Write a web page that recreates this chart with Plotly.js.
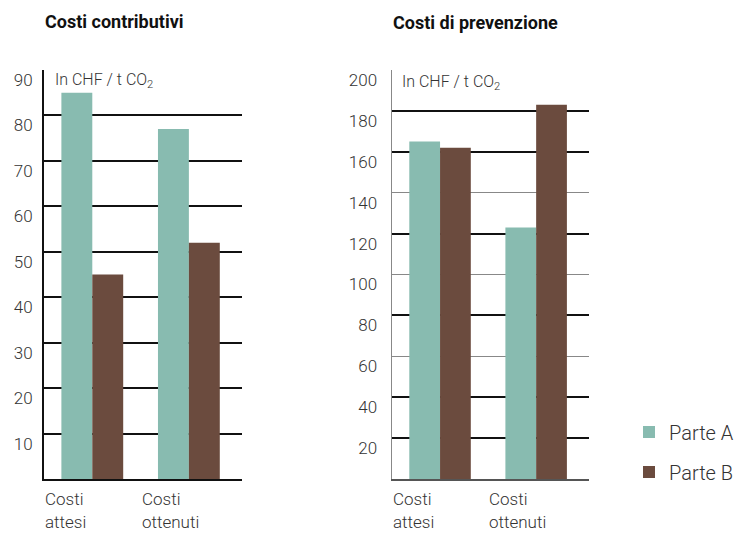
<!DOCTYPE html>
<html>
<head>
<meta charset="utf-8">
<script src="https://cdn.plot.ly/plotly-3.0.1.min.js"></script>
<style>
html,body{margin:0;padding:0;background:#fff;}
#chart{width:740px;height:533px;}
</style>
</head>
<body>
<div id="chart"></div>
<script>
// ---- data ----
const categories = ["Costi attesi", "Costi ottenuti"];
const seriesNames = ["Parte A", "Parte B"];
const contributiviA = [85, 77];
const contributiviB = [45, 52];
const prevenzioneA = [165, 123];
const prevenzioneB = [162, 183];
const titles = ["Costi contributivi", "Costi di prevenzione"];
const unitLabel = "In CHF / t CO<sub>2</sub>";
const leftTicks = [10, 20, 30, 40, 50, 60, 70, 80, 90];
const rightTicks = [20, 40, 60, 80, 100, 120, 140, 160, 180, 200];
const leftGrid = [10, 20, 30, 40, 50, 60, 70, 80];
const rightGridDark = [20, 40, 80, 120, 160, 180];
const rightGridLight = [60, 100, 140];

const teal = "#88bbb0";
const brown = "#6b4b3e";
const FONT = "Roboto, 'DejaVu Sans', sans-serif";

const traces = [
  {type: "bar", x: categories, y: contributiviA, name: seriesNames[0], marker: {color: teal},
   xaxis: "x", yaxis: "y", legendgroup: "a", showlegend: true, hoverinfo: "skip"},
  {type: "bar", x: categories, y: contributiviB, name: seriesNames[1], marker: {color: brown},
   xaxis: "x", yaxis: "y", legendgroup: "b", showlegend: true, hoverinfo: "skip"},
  {type: "bar", x: categories, y: prevenzioneA, name: seriesNames[0], marker: {color: teal},
   xaxis: "x2", yaxis: "y2", legendgroup: "a", showlegend: false, hoverinfo: "skip"},
  {type: "bar", x: categories, y: prevenzioneB, name: seriesNames[1], marker: {color: brown},
   xaxis: "x2", yaxis: "y2", legendgroup: "b", showlegend: false, hoverinfo: "skip"},
  // empty helper traces so the gridline-only overlay axes get drawn
  {type: "scatter", mode: "markers", x: [], y: [], xaxis: "x", yaxis: "y3", showlegend: false, hoverinfo: "skip"},
  {type: "scatter", mode: "markers", x: [], y: [], xaxis: "x2", yaxis: "y4", showlegend: false, hoverinfo: "skip"},
  {type: "scatter", mode: "markers", x: [], y: [], xaxis: "x2", yaxis: "y5", showlegend: false, hoverinfo: "skip"}
];

const W = 740, H = 533;
const yDom = [(H - 479) / H, (H - 70) / H];
const xDom1 = [44 / W, 242 / W];
const xDom2 = [392 / W, 589 / W];

const tickFont = {family: FONT, size: 17, color: "#333", weight: 300};

function catAnns(xref, i, txt) {
  const words = txt.split(" ");
  return words.map((w, k) => ({xref: xref, yref: "paper", x: i - 0.5, y: (H - (499 + 23 * k)) / H,
    xanchor: "left", yanchor: "middle", text: w, showarrow: false, align: "left", borderpad: 0,
    font: {family: FONT, size: 17, color: "#333", weight: 300}}));
}

let annotations = [
  {xref: "paper", yref: "paper", x: 43 / W, y: (H - 21) / H, xanchor: "left", yanchor: "middle",
   text: "<b>" + titles[0] + "</b>", showarrow: false, font: {family: FONT, size: 18, color: "#111"}},
  {xref: "paper", yref: "paper", x: 391 / W, y: (H - 22) / H, xanchor: "left", yanchor: "middle",
   text: "<b>" + titles[1] + "</b>", showarrow: false, font: {family: FONT, size: 18, color: "#111"}},
  {xref: "paper", yref: "paper", x: 53 / W, y: (H - 81) / H, xanchor: "left", yanchor: "middle",
   text: unitLabel, showarrow: false, font: {family: FONT, size: 16, color: "#333", weight: 300}},
  {xref: "paper", yref: "paper", x: 400 / W, y: (H - 82) / H, xanchor: "left", yanchor: "middle",
   text: unitLabel, showarrow: false, font: {family: FONT, size: 16, color: "#333", weight: 300}}
];
categories.forEach((c, i) => {
  annotations = annotations.concat(catAnns("x", i, c), catAnns("x2", i, c));
});

const layout = {
  width: W, height: H,
  margin: {l: 0, r: 0, t: 0, b: 0},
  paper_bgcolor: "#fff", plot_bgcolor: "rgba(0,0,0,0)",
  barmode: "group", bargap: 0.36, bargroupgap: 0,
  showlegend: true,
  legend: {x: 629 / W, y: (H - 452) / H, xanchor: "left", yanchor: "middle",
    font: {family: FONT, size: 20, color: "#333", weight: 300}, tracegroupgap: 11,
    bgcolor: "rgba(0,0,0,0)"},
  annotations: annotations,
  xaxis: {domain: xDom1, anchor: "y", type: "category", range: [-0.5, 1.55],
    showticklabels: false, ticks: "", showgrid: false, zeroline: false,
    showline: true, linecolor: "#111", linewidth: 2},
  yaxis: {domain: yDom, anchor: "x", range: [0, 90], tickvals: leftTicks,
    showgrid: false, zeroline: false, showline: true, linecolor: "#111", linewidth: 2,
    ticks: "", tickfont: tickFont, ticklabelshift: 10, ticklabelstandoff: 6},
  yaxis3: {domain: yDom, overlaying: "y", anchor: "x", range: [0, 90], tickvals: leftGrid,
    showgrid: true, gridcolor: "#111", gridwidth: 2, showticklabels: false,
    zeroline: false, showline: false, ticks: ""},
  xaxis2: {domain: xDom2, anchor: "y2", type: "category", range: [-0.5, 1.55],
    showticklabels: false, ticks: "", showgrid: false, zeroline: false,
    showline: true, linecolor: "#555", linewidth: 2},
  yaxis2: {domain: yDom, anchor: "x2", range: [0, 200], tickvals: rightTicks,
    showgrid: false, zeroline: false, showline: true, linecolor: "#888", linewidth: 1.5,
    ticks: "", tickfont: tickFont, ticklabelshift: 10, ticklabelstandoff: 10},
  yaxis4: {domain: yDom, overlaying: "y2", anchor: "x2", range: [0, 200], tickvals: rightGridDark,
    showgrid: true, gridcolor: "#111", gridwidth: 2, showticklabels: false,
    zeroline: false, showline: false, ticks: ""},
  yaxis5: {domain: yDom, overlaying: "y2", anchor: "x2", range: [0, 200], tickvals: rightGridLight,
    showgrid: true, gridcolor: "#888", gridwidth: 1.5, showticklabels: false,
    zeroline: false, showline: false, ticks: ""}
};

Plotly.newPlot("chart", traces, layout, {staticPlot: true, displayModeBar: false});
</script>
</body>
</html>
